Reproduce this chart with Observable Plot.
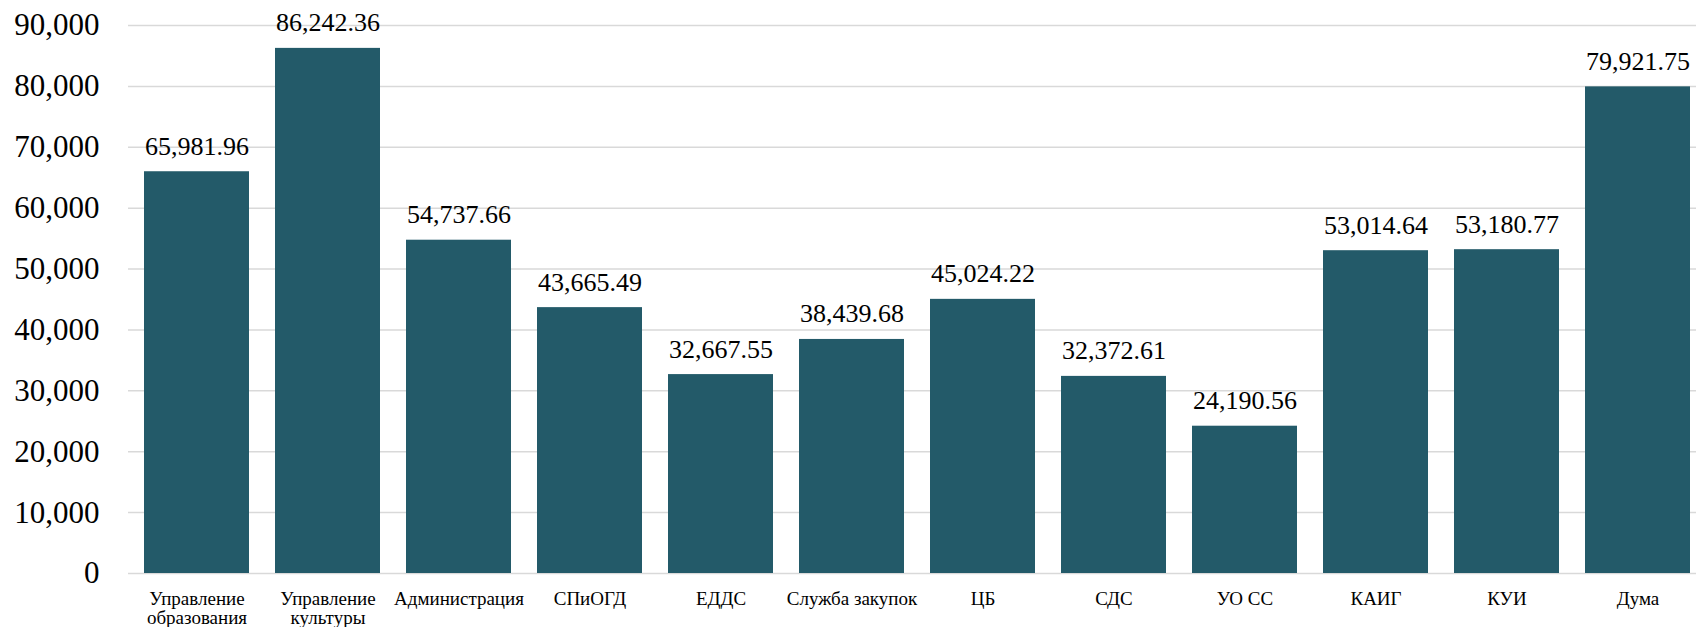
<!DOCTYPE html>
<html><head><meta charset="utf-8">
<script src="https://cdn.jsdelivr.net/npm/d3@7"></script>
<script src="https://cdn.jsdelivr.net/npm/@observablehq/plot@0.6"></script>
<style>body{margin:0;background:#fff;overflow:hidden} svg text{font-family:'Liberation Serif','Times New Roman',serif !important;}</style>
</head><body><div id="chart"></div>
<script>
const categories = ["Управление\nобразования", "Управление\nкультуры", "Администрация", "СПиОГД", "ЕДДС", "Служба закупок", "ЦБ", "СДС", "УО СС", "КАИГ", "КУИ", "Дума"];
const values = [65981.96, 86242.36, 54737.66, 43665.49, 32667.55, 38439.68, 45024.22, 32372.61, 24190.56, 53014.64, 53180.77, 79921.75];
const yTicks = [0, 10000, 20000, 30000, 40000, 50000, 60000, 70000, 80000, 90000];

const data = categories.map((c, i) => ({category: c, value: values[i]}));
const fmt = d3.format(",.2f");
const serif = "'Liberation Serif', 'Times New Roman', serif";

const chart = Plot.plot({
  width: 1696,
  height: 627,
  marginTop: 25,
  marginBottom: 54,
  marginLeft: 128,
  marginRight: 0,
  style: {fontFamily: serif, color: "#000", background: "#fff"},
  x: {domain: categories, range: [128, 1705], paddingInner: 0.2, paddingOuter: 0.1, label: null},
  y: {domain: [0, 90000], label: null},
  marks: [
    Plot.ruleY(yTicks, {stroke: "#d9d9d9", strokeWidth: 1.5}),
    Plot.barY(data, {x: "category", y: "value", fill: "#235A69"}),
    Plot.text(data, {x: "category", y: "value", text: d => fmt(d.value), dy: -17, lineAnchor: "bottom", fontSize: 26, fontFamily: serif, fill: "#000"}),
    Plot.axisY(yTicks, {anchor: "left", tickSize: 0, tickPadding: 29, fontSize: 31, fontFamily: serif, tickFormat: d3.format(","), label: null}),
    Plot.axisX({anchor: "bottom", tickSize: 0, tickPadding: 19, fontSize: 19, fontFamily: serif, lineHeight: 0.96, label: null})
  ]
});
document.getElementById("chart").append(chart);
</script>
</body></html>
